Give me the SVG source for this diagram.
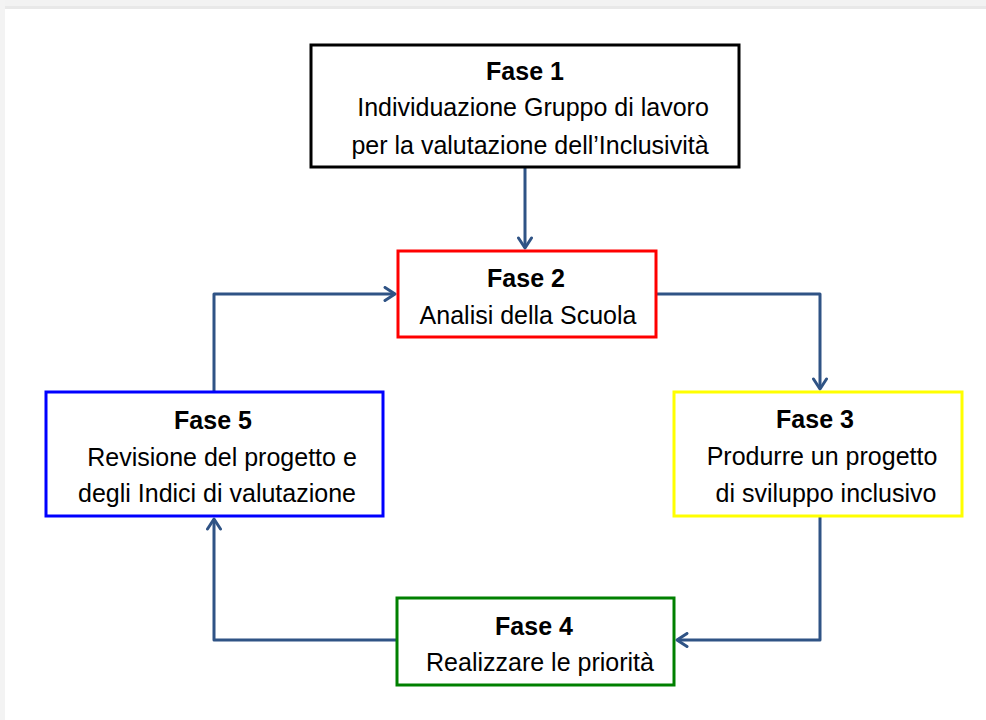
<svg xmlns="http://www.w3.org/2000/svg" width="986" height="720" viewBox="0 0 986 720">
<defs>
<marker id="ah" viewBox="-12 -8 14 16" refX="0" refY="0" markerWidth="14" markerHeight="16" orient="auto" markerUnits="userSpaceOnUse">
<path d="M-10,-6.5 L0,0 L-10,6.5" fill="none" stroke="#2f5385" stroke-width="3" stroke-linecap="round" stroke-linejoin="round"/>
</marker>
<style>
.box{fill:#ffffff;stroke-width:3}
.t{font-family:"Liberation Sans",Arial,sans-serif;font-size:25px;fill:#000;text-anchor:middle}
.b{font-weight:bold}
.c{fill:none;stroke:#2f5385;stroke-width:3;stroke-linejoin:round;marker-end:url(#ah)}
</style>
</defs>
<rect x="0" y="0" width="986" height="720" fill="#ffffff"/>
<rect x="0" y="0" width="986" height="7" fill="#f2f2f2"/>
<rect x="0" y="6" width="986" height="3" fill="#e8e8e8"/>
<rect x="0" y="0" width="5" height="720" fill="#f3f3f3"/>
<g id="connectors">
<path class="c" d="M525,168 L525,248"/>
<path class="c" d="M657,294 L820,294 L820,389"/>
<path class="c" d="M820,517 L820,640 L677,640"/>
<path class="c" d="M396,640 L214,640 L214,519"/>
<path class="c" d="M214,391 L214,294 L395,294"/>
</g>
<g id="fase1">
<rect class="box" x="311" y="45" width="428" height="122" stroke="#000"/>
<text class="t b" x="525" y="80">Fase 1</text>
<text class="t" x="533" y="116">Individuazione Gruppo di lavoro</text>
<text class="t" x="530" y="154">per la valutazione dell’Inclusività</text>
</g>
<g id="fase2">
<rect class="box" x="398" y="251" width="258" height="86" stroke="#ff0000"/>
<text class="t b" x="526" y="287">Fase 2</text>
<text class="t" x="528" y="324">Analisi della Scuola</text>
</g>
<g id="fase3">
<rect class="box" x="674" y="392" width="288" height="124" stroke="#ffff00"/>
<text class="t b" x="815" y="428">Fase 3</text>
<text class="t" x="822" y="465">Produrre un progetto</text>
<text class="t" x="826" y="502">di sviluppo inclusivo</text>
</g>
<g id="fase4">
<rect class="box" x="397" y="598" width="277" height="87" stroke="#008000"/>
<text class="t b" x="534" y="635">Fase 4</text>
<text class="t" x="540" y="671">Realizzare le priorità</text>
</g>
<g id="fase5">
<rect class="box" x="46" y="392" width="337" height="124" stroke="#0000ff"/>
<text class="t b" x="213" y="429">Fase 5</text>
<text class="t" x="222" y="466">Revisione del progetto e</text>
<text class="t" x="217" y="502">degli Indici di valutazione</text>
</g>
</svg>
